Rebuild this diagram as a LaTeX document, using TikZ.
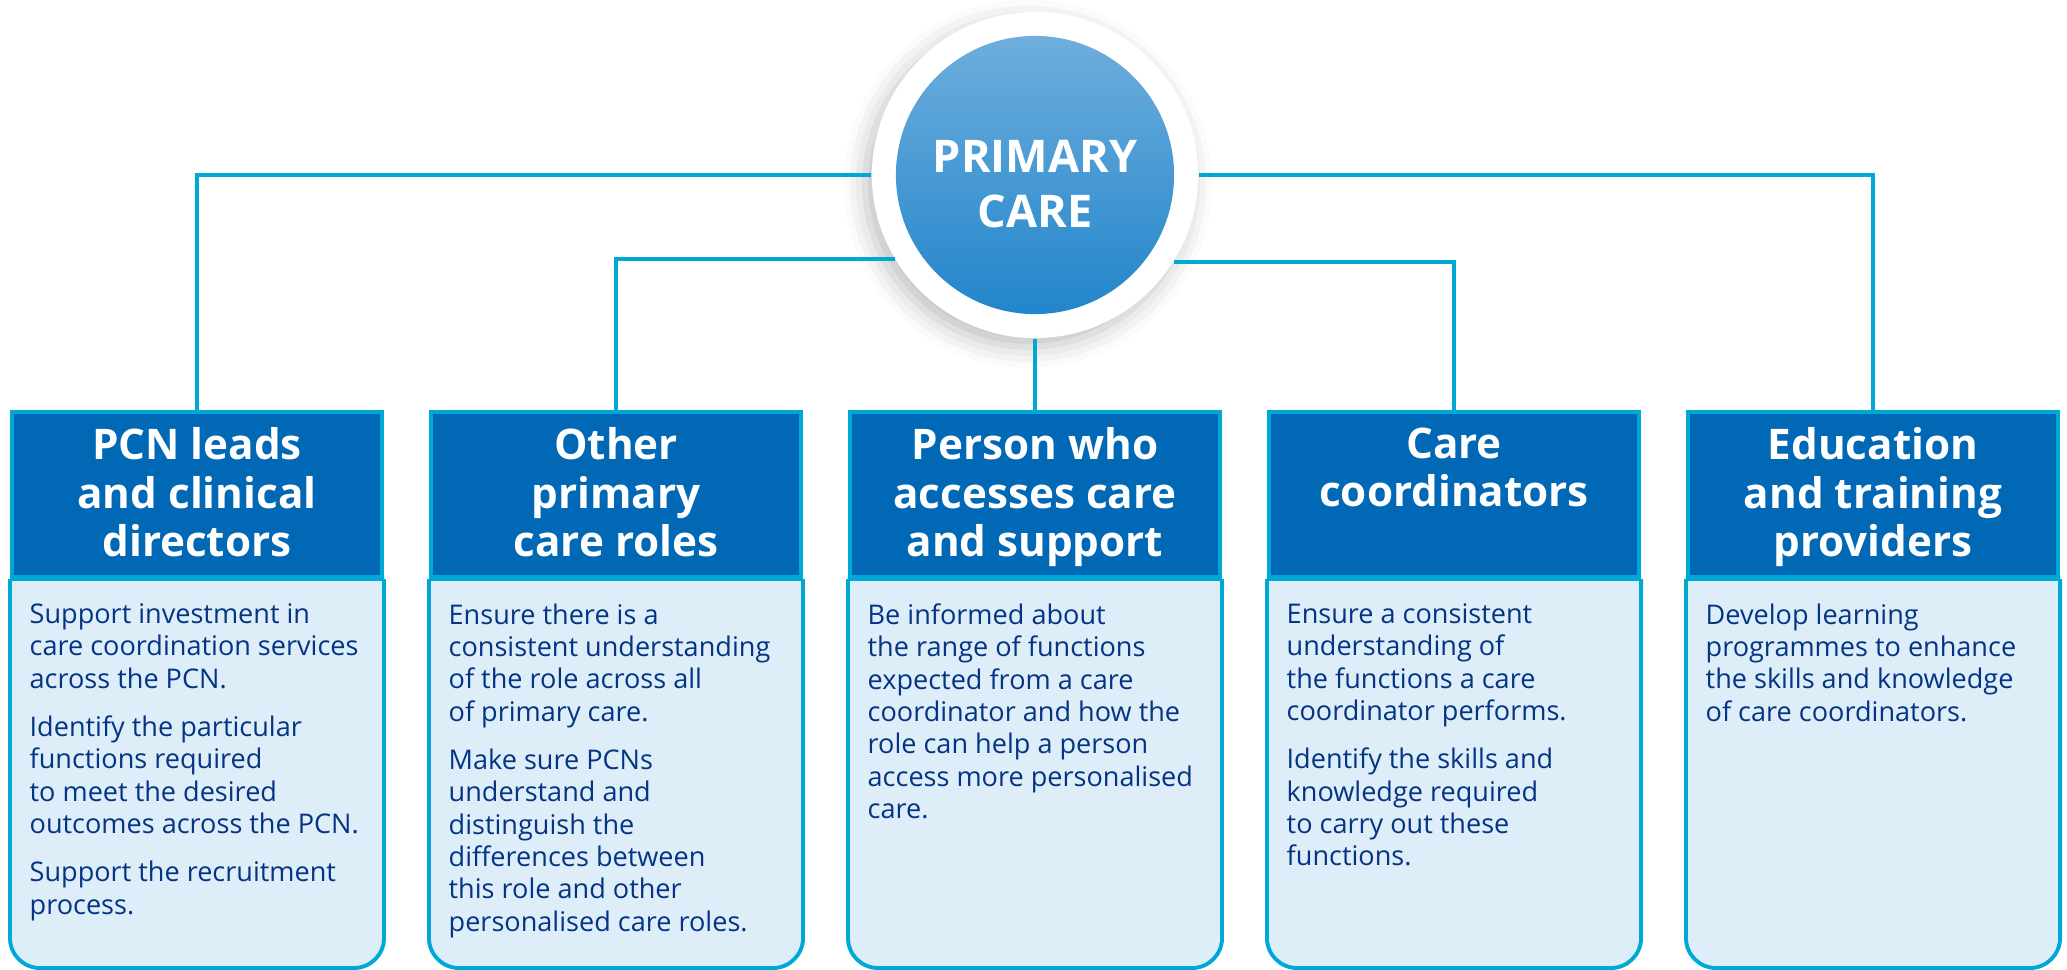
\documentclass[tikz,border=0pt]{standalone}
\usepackage{fontspec}
\setmainfont{Open Sans}
\usepackage{tikz}
\usetikzlibrary{shadows.blur}
\definecolor{headblue}{RGB}{0,104,180}
\definecolor{linecyan}{RGB}{0,168,214}
\definecolor{bodyfill}{RGB}{221,238,249}
\definecolor{bodytext}{RGB}{5,52,132}
\definecolor{ballight}{RGB}{110,174,220}
\definecolor{baldark}{RGB}{34,133,203}

\begin{document}
\begin{tikzpicture}[x=0.01cm, y=-0.01cm,
		link/.style={draw=linecyan, line width=1.1pt},
		bodybox/.style={draw=linecyan, line width=1.1pt, fill=bodyfill, rounded corners=0.3cm}]
	\useasboundingbox (0,0) rectangle (2067,970);
	\coordinate (floor) at (0,968);

	\begin{scope}[every node/.style={rectangle, draw=linecyan, line width=1.1pt, fill=headblue,
			minimum width=3.7cm, minimum height=1.65cm, anchor=north}]
		\node (h1) at (197,410) {};
		\node (h2) at (616,410) {};
		\node (h3) at (1035,410) {};
		\node (h4) at (1454,410) {};
		\node (h5) at (1873,410) {};
	\end{scope}

	\draw[bodybox] (h1.south west) -- (h1.south west |- floor) -- (h1.south east |- floor) -- (h1.south east);
	\draw[bodybox] (h2.south west) -- (h2.south west |- floor) -- (h2.south east |- floor) -- (h2.south east);
	\draw[bodybox] (h3.south west) -- (h3.south west |- floor) -- (h3.south east |- floor) -- (h3.south east);
	\draw[bodybox] (h4.south west) -- (h4.south west |- floor) -- (h4.south east |- floor) -- (h4.south east);
	\draw[bodybox] (h5.south west) -- (h5.south west |- floor) -- (h5.south east |- floor) -- (h5.south east);
	\draw[link] (h1.south west) -- (h1.south east);
	\draw[link] (h2.south west) -- (h2.south east);
	\draw[link] (h3.south west) -- (h3.south east);
	\draw[link] (h4.south west) -- (h4.south east);
	\draw[link] (h5.south west) -- (h5.south east);

	\begin{scope}[every node/.style={anchor=north, inner sep=0pt, align=center, text=white,
			font=\bfseries\fontsize{12}{13.8}\selectfont}]
		\node (t1) at ([yshift=-0.17cm]h1.north) {PCN leads\\and clinical\\directors};
		\node (t2) at ([yshift=-0.17cm]h2.north) {Other\\primary\\care roles};
		\node (t3) at ([yshift=-0.17cm]h3.north) {Person who\\accesses care\\and support};
		\node (t4) at ([yshift=-0.17cm]h4.north) {Care\\coordinators};
		\node (t5) at ([yshift=-0.17cm]h5.north) {Education\\and training\\providers};
	\end{scope}

	\begin{scope}[every node/.style={anchor=north west, inner sep=0pt, align=left, text=bodytext,
			font=\fontsize{7.7}{9.2}\selectfont}]
		\node (b1) at ([xshift=0.19cm, yshift=-0.24cm]h1.south west)
			{Support investment in\\care coordination services\\across the PCN.\\[4.5pt]
			Identify the particular\\functions required\\to meet the desired\\outcomes across the PCN.\\[4.5pt]
			Support the recruitment\\process.};
		\node (b2) at ([xshift=0.19cm, yshift=-0.24cm]h2.south west)
			{Ensure there is a\\consistent understanding\\of the role across all\\of primary care.\\[4.5pt]
			Make sure PCNs\\understand and\\distinguish the\\differences between\\this role and other\\personalised care roles.};
		\node (b3) at ([xshift=0.19cm, yshift=-0.24cm]h3.south west)
			{Be informed about\\the range of functions\\expected from a care\\coordinator and how the\\role can help a person\\access more personalised\\care.};
		\node (b4) at ([xshift=0.19cm, yshift=-0.24cm]h4.south west)
			{Ensure a consistent\\understanding of\\the functions a care\\coordinator performs.\\[4.5pt]
			Identify the skills and\\knowledge required\\to carry out these\\functions.};
		\node (b5) at ([xshift=0.19cm, yshift=-0.24cm]h5.south west)
			{Develop learning\\programmes to enhance\\the skills and knowledge\\of care coordinators.};
	\end{scope}

	\node (pc) at (1035,175) [circle, fill=white, minimum size=3.26cm,
		blur shadow={shadow xshift=-2pt, shadow yshift=-2.5pt, shadow blur radius=6pt, shadow opacity=25}] {};
	\node (pcin) at (pc.center) [circle, minimum size=2.78cm, shading angle=-45,
		top color=ballight, bottom color=baldark] {};
	\node (pct) at ([yshift=-0.09cm]pcin.center) [align=center, text=white, inner sep=0pt,
		font=\bfseries\fontsize{12.8}{15.6}\selectfont] {PRIMARY\\CARE};

	\path [link] (pc.west) -| (h1.north);
	\path [link] (pc.211.4) -| (h2.north);
	\path [link] (pc.south) -- (h3.north);
	\path [link] (pc.328.6) -| (h4.north);
	\path [link] (pc.east) -| (h5.north);
\end{tikzpicture}
\end{document}
